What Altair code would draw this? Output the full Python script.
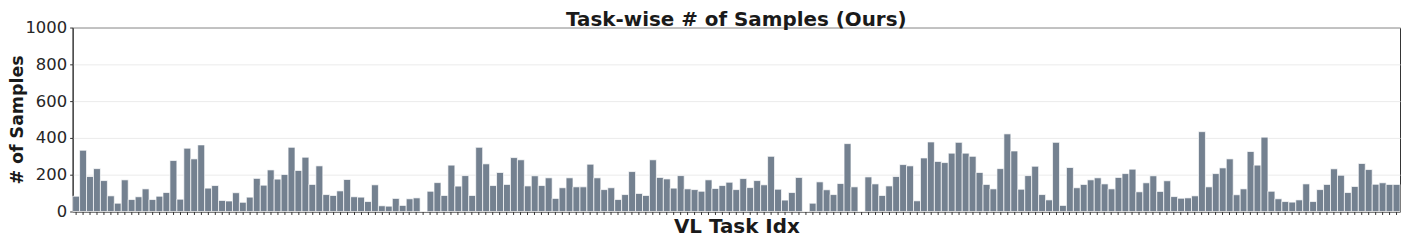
import altair as alt
import pandas as pd

samples = [
    83, 333, 190, 233, 168, 85, 45, 172, 65, 80, 123, 65, 83, 103, 277, 67, 344, 286, 362,
    127, 141, 60, 57, 102, 50, 78, 180, 143, 226, 176, 201, 349, 223, 295, 147, 248, 92, 87, 112,
    174, 80, 78, 54, 145, 31, 29, 71, 33, 69, 74, 0, 110, 157, 87, 252, 138, 195, 87,
    349, 259, 141, 212, 147, 293, 281, 139, 194, 141, 183, 71, 129, 183, 134, 134, 257, 183, 119,
    129, 65, 92, 217, 98, 87, 281, 185, 177, 127, 195, 123, 119, 110, 172, 125, 141, 159, 119, 179,
    130, 168, 145, 300, 121, 62, 103, 185, 0, 45, 161, 118, 92, 152, 369, 134, 0, 188, 150,
    87, 139, 190, 255, 248, 58, 291, 378, 272, 266, 317, 376, 317, 300, 212, 147, 123, 233, 422, 329,
    121, 195, 246, 92, 63, 376, 33, 239, 129, 147, 172, 183, 150, 123, 185, 206, 230, 107, 156,
    194, 109, 167, 81, 72, 74, 85, 434, 134, 206, 237, 286, 91, 123, 326, 252, 404, 110, 69,
    54, 51, 63, 150, 54, 119, 147, 232, 197, 103, 136, 261, 228, 148, 156, 147, 147,
]
task_idx = list(range(len(samples)))
y_ticks = [0, 200, 400, 600, 800, 1000]

df = pd.DataFrame({"idx": task_idx, "n": samples})

FONT = "DejaVu Sans"

chart = (
    alt.Chart(df)
    .mark_bar(color="#748190", stroke="white", strokeWidth=0.7)
    .encode(
        x=alt.X(
            "idx:O",
            scale=alt.Scale(paddingInner=0, paddingOuter=0),
            axis=alt.Axis(
                labels=False,
                ticks=True,
                tickSize=3,
                tickColor="#333333",
                domainColor="#333333",
                title="VL Task Idx",
                titleFont=FONT,
                titleFontSize=20,
                titleFontWeight="bold",
                titleColor="#1a1a1a",
                titlePadding=2,
                grid=False,
            ),
        ),
        y=alt.Y(
            "n:Q",
            scale=alt.Scale(domain=[0, 1000], nice=False),
            axis=alt.Axis(
                values=y_ticks,
                format="d",
                title="# of Samples",
                titleFont=FONT,
                titleFontSize=17.5,
                titleFontWeight="bold",
                titleColor="#1a1a1a",
                titleX=-46,
                titleY=92.5,
                titleAngle=270,
                titleAlign="center",
                titleBaseline="bottom",
                labelFont=FONT,
                labelFontSize=16.5,
                labelColor="#262626",
                labelPadding=3,
                tickSize=3,
                tickColor="#333333",
                domainColor="#333333",
                gridColor="#ebebeb",
                gridWidth=1,
            ),
        ),
    )
    .properties(
        width=1335,
        height=185,
        title=alt.TitleParams(
            "Task-wise # of Samples (Ours)",
            font=FONT,
            fontSize=20,
            fontWeight="bold",
            color="#1a1a1a",
            anchor="middle",
            offset=3,
            dy=13,
        ),
        autosize=alt.AutoSizeParams(type="none"),
        padding={"left": 65, "top": 19, "right": 3, "bottom": 26},
    )
    .configure_view(stroke="#333333", strokeWidth=1)
)

chart.save("out.html", embed_options={"renderer": "svg", "actions": False})
